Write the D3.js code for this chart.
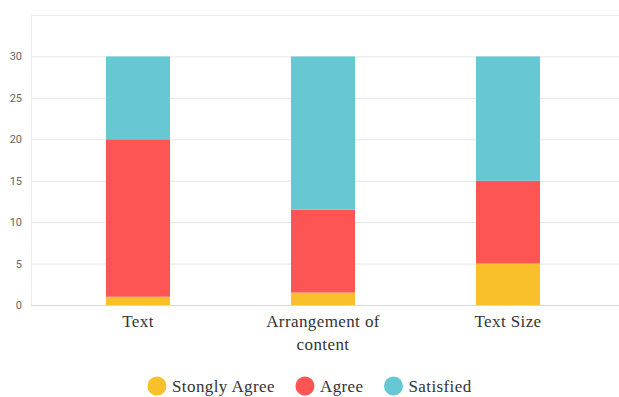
<!DOCTYPE html>
<html>
<head>
<meta charset="utf-8">
<script src="https://cdn.jsdelivr.net/npm/d3@7"></script>
<style>
  body { margin: 0; background: #fff; }
</style>
</head>
<body>
<div id="chart"></div>
<script>
var categories = [["Text"], ["Arrangement of", "content"], ["Text Size"]];
var series = ["Stongly Agree", "Agree", "Satisfied"];
var stronglyAgree = [1, 1.5, 5];
var agree = [19, 10, 10];
var satisfied = [10, 18.5, 15];
var yTicks = [0, 5, 10, 15, 20, 25, 30];
var colors = ["#F9C02C", "#FD5454", "#66C8D2"];

var rows = categories.map(function(c, i){
    return {key: i, sa: stronglyAgree[i], ag: agree[i], sat: satisfied[i]};
});

var width = 619, height = 397;
var serif = "'Liberation Serif', serif";

var svg = d3.select("#chart").append("svg")
    .attr("width", width)
    .attr("height", height);

var x = d3.scaleBand()
    .domain(d3.range(categories.length))
    .range([45.5, 600.5])
    .paddingInner(0.654)
    .paddingOuter(0.327);

var y = d3.scaleLinear()
    .domain([0, 35])
    .range([305, 15]);

// grid
svg.append("g").selectAll("line")
    .data(yTicks.slice(1))
    .enter().append("line")
    .attr("x1", 31).attr("x2", width)
    .attr("y1", function(d){ return y(d) + 0.5; })
    .attr("y2", function(d){ return y(d) + 0.5; })
    .style("stroke", "#e6e6e6");

// frame top + left
svg.append("line").attr("x1", 31).attr("x2", width).attr("y1", 15.5).attr("y2", 15.5).style("stroke", "#ececec");
svg.append("line").attr("x1", 31.5).attr("x2", 31.5).attr("y1", 15).attr("y2", 305).style("stroke", "#ececec");

var y_axis = d3.axisLeft(y).tickValues(yTicks).tickSize(0).tickPadding(9);
svg.append("g")
    .attr("transform", "translate(31,0)")
    .call(y_axis)
    .call(function(g){
        g.select(".domain").remove();
        g.selectAll("text").attr("font-family", "Roboto, sans-serif").attr("font-size", 11).style("fill", "#666");
    });

var stack = d3.stack().keys(["sa", "ag", "sat"]);
var layers = stack(rows);

svg.append("g").selectAll("g")
    .data(layers)
    .enter().append("g")
    .style("fill", function(d, i){ return colors[i]; })
    .selectAll("rect")
    .data(function(d){ return d; })
    .enter().append("rect")
    .attr("x", function(d){ return x(d.data.key); })
    .attr("y", function(d){ return y(d[1]); })
    .attr("width", x.bandwidth())
    .attr("height", function(d){ return y(d[0]) - y(d[1]); });

// baseline
svg.append("line").attr("x1", 31).attr("x2", width).attr("y1", 305.5).attr("y2", 305.5).style("stroke", "#d9d9d9");

// category labels
svg.append("g").selectAll("text")
    .data(categories)
    .enter().append("text")
    .attr("text-anchor", "middle")
    .attr("font-family", serif)
    .attr("font-size", 17)
    .style("letter-spacing", "0.4px")
    .style("fill", "#333")
    .attr("transform", function(d, i){ return "translate(" + (x(i) + x.bandwidth() / 2) + ",327)"; })
    .selectAll("tspan")
    .data(function(d){ return d; })
    .enter().append("tspan")
    .attr("x", 0)
    .attr("y", function(d, i){ return i * 23; })
    .text(function(d){ return d; });

// legend
var legend = svg.append("g").attr("transform", "translate(147,386)");
var lx = 0;
series.forEach(function(s, i){
    var g = legend.append("g").attr("transform", "translate(" + lx + ",0)");
    g.append("circle").attr("cx", 10).attr("cy", 0).attr("r", 9.5).style("fill", colors[i]);
    var t = g.append("text").attr("x", 25).attr("y", 5.5)
        .attr("font-family", serif)
        .attr("font-size", 17)
        .style("letter-spacing", "0.4px")
        .style("fill", "#333")
        .text(s);
    lx += 25 + t.node().getComputedTextLength() + 20;
});
</script>
</body>
</html>
